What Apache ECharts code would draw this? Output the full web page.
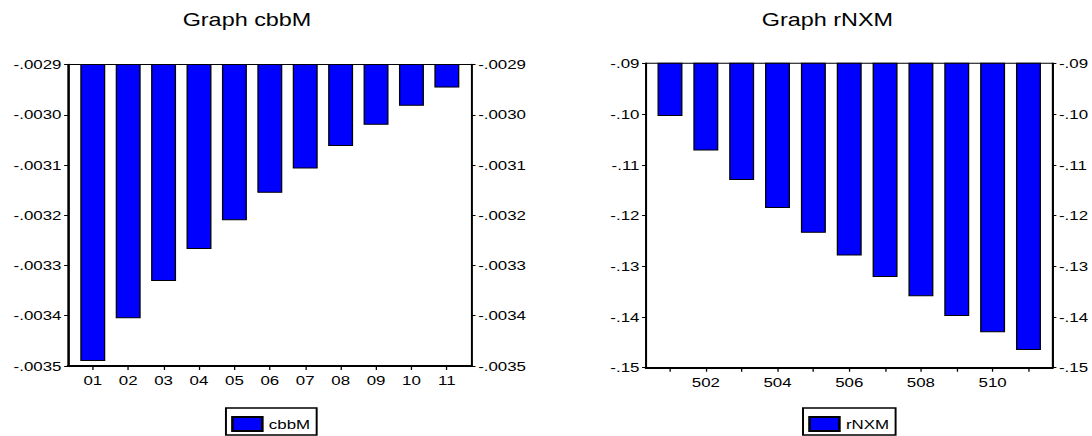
<!DOCTYPE html>
<html>
<head>
<meta charset="utf-8">
<title>Graph cbbM / Graph rNXM</title>
<script src="https://cdn.jsdelivr.net/npm/echarts@6/dist/echarts.min.js"></script>
<style>
  html, body { margin: 0; padding: 0; background: #fff; overflow: hidden; }
  /* the chart is laid out on a narrower canvas and stretched sideways to fill the page */
  #chart { width: 840px; height: 436px; transform: scaleX(1.3); transform-origin: 0 0; }
</style>
</head>
<body>
<div id="chart"></div>
<script>
// ---- data ----
const periodsA = [1, 2, 3, 4, 5, 6, 7, 8, 9, 10, 11];
const valuesA = [-0.00349, -0.003405, -0.003331, -0.003267, -0.00321, -0.003155,
                 -0.003107, -0.003062, -0.00302, -0.002982, -0.002946];
const periodsB = [501, 502, 503, 504, 505, 506, 507, 508, 509, 510, 511];
const labeledB = [502, 504, 506, 508, 510];
const valuesB = [-0.1004, -0.1072, -0.1130, -0.1185, -0.1234, -0.1279,
                 -0.1321, -0.1359, -0.1398, -0.1430, -0.1465];
const yRangeA = [-0.0035, -0.0029];
const yStepA = 0.0001;
const yRangeB = [-0.15, -0.09];
const yStepB = 0.01;

// ---- styling ----
const FONT = '"Liberation Sans", Arial, sans-serif';
const BLACK = '#000';
const BLUE = '#0000ff';

const fmtY = (digits) => (v) => v.toFixed(digits).replace('-0.', '-.').replace(/^0\./, '.');

function xAxisFor(grid, min, max, ticks, labels, formatter) {
  return {
    type: 'value', gridIndex: grid, min: min, max: max,
    axisLine: { show: true, onZero: false, lineStyle: { color: BLACK, width: 2 } },
    axisTick: { show: true, inside: false, length: 4, customValues: ticks,
                lineStyle: { color: BLACK, width: 1 } },
    axisLabel: { show: true, customValues: labels, formatter: formatter, margin: 8,
                 color: BLACK, fontSize: 13, fontFamily: FONT },
    splitLine: { show: false }
  };
}

function yAxisFor(grid, side, range, step, digits) {
  return {
    type: 'value', gridIndex: grid, position: side,
    min: range[0], max: range[1], interval: step,
    axisLine: { show: true, onZero: false, lineStyle: { color: BLACK, width: 1.5 } },
    axisTick: { show: true, inside: false, length: 3, lineStyle: { color: BLACK, width: 1 } },
    axisLabel: { show: true, formatter: fmtY(digits), margin: 5,
                 color: BLACK, fontSize: 13, fontFamily: FONT },
    splitLine: { show: false }
  };
}

function legendFor(name, left) {
  return {
    data: [name], left: left, top: 408, orient: 'horizontal',
    icon: 'rect', itemWidth: 23, itemHeight: 14,
    padding: [8, 5, 3, 4], borderColor: BLACK, borderWidth: 1.5,
    selectedMode: false,
    textStyle: { color: BLACK, fontSize: 13, fontFamily: FONT }
  };
}

const barStyle = { color: BLUE, borderColor: BLACK, borderWidth: 1 };

const option = {
  animation: false,
  backgroundColor: '#fff',
  title: [
    { text: 'Graph cbbM', left: 140.5, top: 11, padding: 0,
      textStyle: { color: BLACK, fontSize: 18, fontWeight: 'normal', fontFamily: FONT } },
    { text: 'Graph rNXM', left: 586, top: 11, padding: 0,
      textStyle: { color: BLACK, fontSize: 18, fontWeight: 'normal', fontFamily: FONT } }
  ],
  legend: [legendFor('cbbM', 173.8), legendFor('rNXM', 617.7)],
  grid: [
    { left: 52.3, top: 64.5, width: 310.5, height: 301.5,
      show: true, borderColor: BLACK, borderWidth: 1, backgroundColor: 'transparent' },
    { left: 496.9, top: 63.3, width: 312.9, height: 304.4,
      show: true, borderColor: BLACK, borderWidth: 1, backgroundColor: 'transparent' }
  ],
  xAxis: [
    xAxisFor(0, 0.3, 11.7, periodsA, periodsA, (v) => String(v).padStart(2, '0')),
    xAxisFor(1, 500.33, 511.67, periodsB, labeledB, (v) => String(v))
  ],
  yAxis: [
    yAxisFor(0, 'left', yRangeA, yStepA, 4),
    yAxisFor(0, 'right', yRangeA, yStepA, 4),
    yAxisFor(1, 'left', yRangeB, yStepB, 2),
    yAxisFor(1, 'right', yRangeB, yStepB, 2)
  ],
  series: [
    { name: 'cbbM', type: 'bar', xAxisIndex: 0, yAxisIndex: 0, barWidth: 19.2, clip: true,
      itemStyle: barStyle,
      data: periodsA.map((p, i) => [p, valuesA[i]]) },
    { name: 'rNXM', type: 'bar', xAxisIndex: 1, yAxisIndex: 2, barWidth: 19.2, clip: true,
      itemStyle: barStyle,
      data: periodsB.map((p, i) => [p, valuesB[i]]) }
  ]
};

const chart = echarts.init(document.getElementById('chart'), null, { renderer: 'svg' });
chart.setOption(option);
</script>
</body>
</html>
